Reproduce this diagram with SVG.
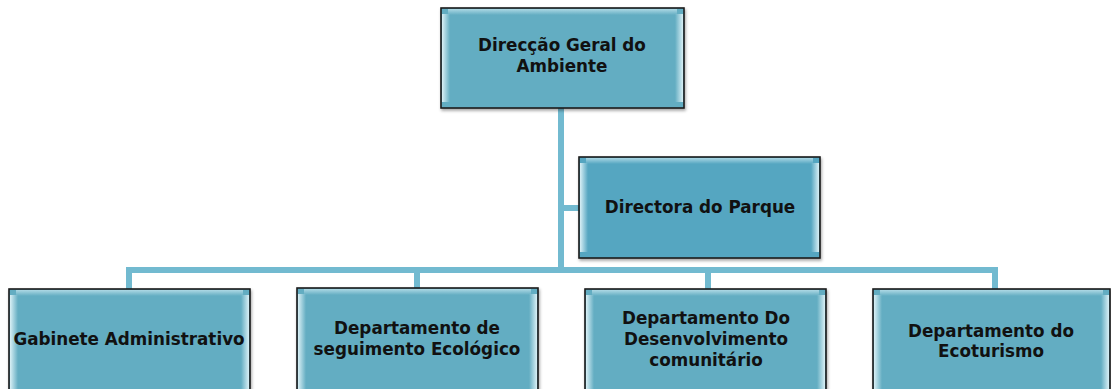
<svg xmlns="http://www.w3.org/2000/svg" width="1111" height="389" viewBox="0 0 1111 389">
<defs>
<linearGradient id="lg" x1="0" y1="0" x2="1" y2="0">
<stop offset="0" stop-color="#e6f7fb" stop-opacity="0.9"/>
<stop offset="1" stop-color="#e6f7fb" stop-opacity="0"/>
</linearGradient>
<linearGradient id="rg" x1="1" y1="0" x2="0" y2="0">
<stop offset="0" stop-color="#e6f7fb" stop-opacity="0.9"/>
<stop offset="1" stop-color="#e6f7fb" stop-opacity="0"/>
</linearGradient>
<linearGradient id="tg" x1="0" y1="0" x2="0" y2="1">
<stop offset="0" stop-color="#cdebf3" stop-opacity="0.7"/>
<stop offset="1" stop-color="#cdebf3" stop-opacity="0"/>
</linearGradient>
<filter id="sh" x="-5%" y="-5%" width="110%" height="115%">
<feDropShadow dx="1" dy="2" stdDeviation="1.5" flood-color="#000" flood-opacity="0.35"/>
</filter>
</defs>
<style>
.box{fill:#64adc2;stroke:#1c1c1c;stroke-width:1.6;filter:url(#sh)}
.mid{fill:#55a6c1}
.lb{fill:url(#lg)}
.rb{fill:url(#rg)}
.tb{fill:url(#tg)}
.t{font-family:"DejaVu Sans",Verdana,sans-serif;font-weight:bold;font-size:16.8px;fill:#111;text-anchor:middle}
.c{fill:none;stroke:#72bad0;stroke-width:6;stroke-linecap:butt}
</style>
<g id="connectors">
<path class="c" d="M561 108 V270 M561 208 H579 M126 270 H998 M129 270 V289 M417 270 V289 M708 270 V289 M995 270 V289"/>
</g>
<g id="n-direccao">
<rect class="box" x="441" y="8" width="243" height="100"/>
<rect class="tb" x="448" y="9" width="229" height="6"/>
<rect class="lb" x="442" y="14" width="8" height="88"/>
<rect class="rb" x="675" y="14" width="8" height="88"/>
<text class="t" x="562" y="51">Direcção Geral do</text>
<text class="t" x="562" y="72">Ambiente</text>
</g>
<g id="n-directora">
<rect class="box mid" x="579" y="157" width="241" height="101"/>
<rect class="tb" x="586" y="158" width="227" height="6"/>
<rect class="lb" x="580" y="163" width="8" height="89"/>
<rect class="rb" x="811" y="163" width="8" height="89"/>
<text class="t" x="700" y="213">Directora do Parque</text>
</g>
<g id="n-gabinete">
<rect class="box" x="9" y="289" width="241" height="110"/>
<rect class="tb" x="16" y="290" width="227" height="6"/>
<rect class="lb" x="10" y="295" width="8" height="94"/>
<rect class="rb" x="241" y="295" width="8" height="94"/>
<text class="t" x="129" y="345">Gabinete Administrativo</text>
</g>
<g id="n-seguimento">
<rect class="box" x="297" y="288" width="241" height="110"/>
<rect class="tb" x="304" y="289" width="227" height="6"/>
<rect class="lb" x="298" y="294" width="8" height="95"/>
<rect class="rb" x="529" y="294" width="8" height="95"/>
<text class="t" x="417" y="334">Departamento de</text>
<text class="t" x="417" y="355">seguimento Ecológico</text>
</g>
<g id="n-desenvolvimento">
<rect class="box" x="585" y="289" width="241" height="110"/>
<rect class="tb" x="592" y="290" width="227" height="6"/>
<rect class="lb" x="586" y="295" width="8" height="94"/>
<rect class="rb" x="817" y="295" width="8" height="94"/>
<text class="t" x="706" y="324">Departamento Do</text>
<text class="t" x="706" y="345">Desenvolvimento</text>
<text class="t" x="706" y="366">comunitário</text>
</g>
<g id="n-ecoturismo">
<rect class="box" x="873" y="289" width="237" height="110"/>
<rect class="tb" x="880" y="290" width="223" height="6"/>
<rect class="lb" x="874" y="295" width="8" height="94"/>
<rect class="rb" x="1101" y="295" width="8" height="94"/>
<text class="t" x="991" y="337">Departamento do</text>
<text class="t" x="991" y="357">Ecoturismo</text>
</g>
</svg>
